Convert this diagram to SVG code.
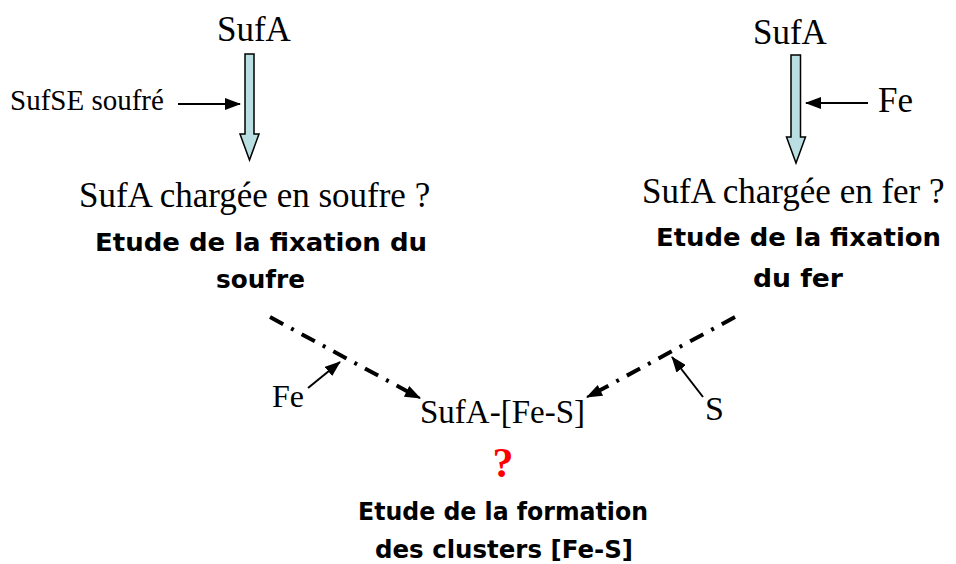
<svg xmlns="http://www.w3.org/2000/svg" width="956" height="564" viewBox="0 0 956 564">
<defs>
<marker id="ah" markerUnits="userSpaceOnUse" markerWidth="16" markerHeight="12" refX="15" refY="6" orient="auto">
<path d="M0,0 L16,6 L0,12 z" fill="#000"/>
</marker>
<style>
.serif{font-family:"Liberation Serif","Times New Roman",serif;fill:#000}
.comic{font-family:"Comic Sans MS","DejaVu Sans",sans-serif;font-weight:bold;fill:#000}
.block{fill:#b9dfe2;stroke:#000;stroke-width:1.5;stroke-linejoin:miter}
.thin{stroke:#000;stroke-width:2;fill:none}
.dd{stroke:#000;stroke-width:4;fill:none;stroke-dasharray:15 9 3 9}
</style>
</defs>
<rect width="956" height="564" fill="#fff"/>
<g id="left-branch">
<text class="serif" x="217" y="41" font-size="35">SufA</text>
<polygon class="block" points="245,54 254,54 254,134 259,134 249.5,160 240,134 245,134"/>
<text class="serif" x="10" y="110" font-size="29">SufSE soufré</text>
<text class="serif" x="79" y="207" font-size="35">SufA chargée en soufre ?</text>
<text class="comic" x="95" y="251" font-size="25" textLength="332" lengthAdjust="spacingAndGlyphs">Etude de la fixation du</text>
<text class="comic" x="216" y="288" font-size="25" textLength="89" lengthAdjust="spacingAndGlyphs">soufre</text>
</g>
<g id="right-branch">
<text class="serif" x="753" y="44" font-size="35">SufA</text>
<polygon class="block" points="791,55 800.5,55 800.5,137 805.5,137 796,163 786.5,137 791,137"/>
<text class="serif" x="878" y="112" font-size="35">Fe</text>
<text class="serif" x="642" y="203" font-size="35">SufA chargée en fer ?</text>
<text class="comic" x="656" y="246" font-size="25" textLength="285" lengthAdjust="spacingAndGlyphs">Etude de la fixation</text>
<text class="comic" x="753" y="287" font-size="25" textLength="90" lengthAdjust="spacingAndGlyphs">du fer</text>
</g>
<g id="center">
<text class="serif" x="272" y="407" font-size="32">Fe</text>
<text class="serif" x="420" y="423" font-size="33">SufA-[Fe-S]</text>
<text class="serif" x="705" y="420" font-size="34">S</text>
<text class="serif" x="503" y="477" font-size="42" font-weight="bold" text-anchor="middle" style="fill:#ff0000">?</text>
<text class="comic" x="358" y="520" font-size="25" textLength="290" lengthAdjust="spacingAndGlyphs">Etude de la formation</text>
<text class="comic" x="375" y="558" font-size="25" textLength="258" lengthAdjust="spacingAndGlyphs">des clusters [Fe-S]</text>
</g>
<g id="connectors">
<line class="thin" x1="178" y1="104" x2="240" y2="104" marker-end="url(#ah)"/>
<line class="thin" x1="868" y1="103" x2="806" y2="103" marker-end="url(#ah)"/>
<line class="dd" x1="270" y1="317" x2="414" y2="395"/>
<line class="thin" x1="410" y1="393" x2="420" y2="398" marker-end="url(#ah)"/>
<line class="dd" x1="735" y1="317" x2="593" y2="394"/>
<line class="thin" x1="597" y1="392" x2="587" y2="397" marker-end="url(#ah)"/>
<line class="thin" x1="308" y1="388" x2="340" y2="362" marker-end="url(#ah)"/>
<line class="thin" x1="703" y1="397" x2="672" y2="357" marker-end="url(#ah)"/>
</g>
</svg>
